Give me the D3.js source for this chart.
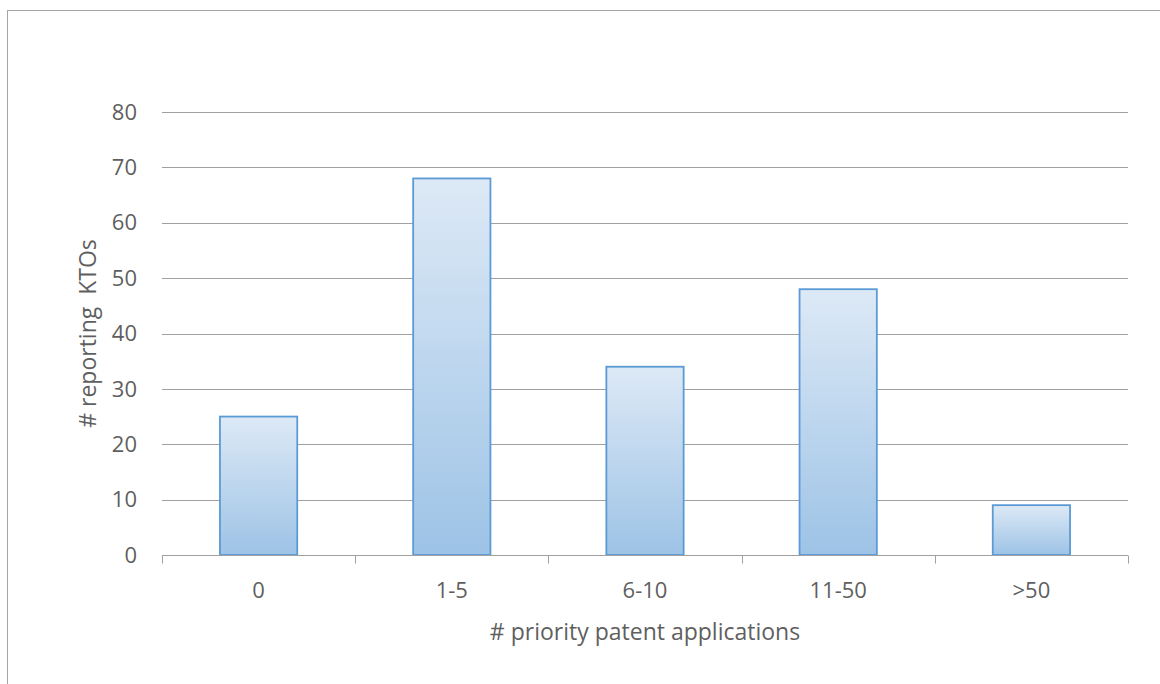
<!DOCTYPE html>
<html>
<head>
<meta charset="utf-8">
<script src="https://cdn.jsdelivr.net/npm/d3@7"></script>
<style>
  html, body { margin: 0; padding: 0; background: #fff; }
  svg { display: block; }
  text { font-family: "Open Sans", "Liberation Sans", sans-serif; fill: #5f5f5f; }
</style>
</head>
<body>
<svg id="chart" width="1160" height="684"></svg>
<script>
// Number of knowledge-transfer offices by count of priority patent applications
const categories = ["0", "1-5", "6-10", "11-50", ">50"];
const values = [25, 68, 34, 48, 9];
const yTicks = [0, 10, 20, 30, 40, 50, 60, 70, 80];
const xTitle = "# priority patent applications";
const yTitle = "# reporting\u00a0\u00a0KTOs";

const svg = d3.select("#chart");
const W = 1160, H = 684;
const m = { left: 162, right: 32, top: 112, bottom: 129 };
const fontSize = 22;

// outer chart frame
svg.append("rect")
  .attr("x", 7.5).attr("y", 10.5)
  .attr("width", W).attr("height", H)
  .attr("fill", "none").attr("stroke", "#a6a6a6").attr("stroke-width", 1);

const x = d3.scaleBand().domain(categories)
  .range([m.left, W - m.right]).paddingInner(0.6).paddingOuter(0.3);
const y = d3.scaleLinear().domain([0, 80]).range([H - m.bottom, m.top]);

const defs = svg.append("defs");
const grad = defs.append("linearGradient").attr("id", "barFill")
  .attr("x1", 0).attr("y1", 0).attr("x2", 0).attr("y2", 1);
grad.append("stop").attr("offset", "0%").attr("stop-color", "#dde9f6");
grad.append("stop").attr("offset", "100%").attr("stop-color", "#9dc3e6");

// horizontal gridlines
svg.append("g").selectAll("line").data(yTicks.filter(d => d > 0)).join("line")
  .attr("x1", m.left).attr("x2", W - m.right)
  .attr("y1", d => Math.round(y(d)) + 0.5).attr("y2", d => Math.round(y(d)) + 0.5)
  .attr("stroke", "#a0a0a0").attr("stroke-width", 1);

// y tick labels
svg.append("g").selectAll("text").data(yTicks).join("text")
  .attr("x", m.left - 25).attr("y", d => y(d))
  .attr("dy", "0.35em").attr("text-anchor", "end")
  .attr("font-size", fontSize).text(d => d);

// bars
svg.append("g").selectAll("rect").data(values).join("rect")
  .attr("x", (d, i) => x(categories[i]))
  .attr("y", d => y(d))
  .attr("width", x.bandwidth())
  .attr("height", d => y(0) - y(d))
  .attr("fill", "url(#barFill)")
  .attr("stroke", "#5b9bd5").attr("stroke-width", 1.8);

// x axis baseline with ticks between categories
const xAxis = d3.axisBottom(x).tickSize(0).tickPadding(42);
const gx = svg.append("g").attr("transform", `translate(0,${Math.round(y(0)) + 0.5})`).call(xAxis);
gx.select(".domain").remove();
gx.selectAll("text").attr("font-size", fontSize).attr("fill", "#5f5f5f")
  .attr("dy", "0")
  .style("font-family", '"Open Sans", "Liberation Sans", sans-serif');
gx.append("line").attr("x1", m.left).attr("x2", W - m.right)
  .attr("stroke", "#a0a0a0").attr("stroke-width", 1);
const edges = d3.range(categories.length + 1).map(i => m.left + i * ((W - m.right - m.left) / categories.length));
gx.selectAll(".sep").data(edges).join("line").attr("class", "sep")
  .attr("x1", d => Math.round(d) + 0.5).attr("x2", d => Math.round(d) + 0.5)
  .attr("y1", 0).attr("y2", 8)
  .attr("stroke", "#a0a0a0").attr("stroke-width", 1);

// axis titles
svg.append("text").attr("x", (m.left + W - m.right) / 2).attr("y", 632)
  .attr("dy", "0.35em")
  .attr("text-anchor", "middle").attr("font-size", 23).text(xTitle);
svg.append("text")
  .attr("transform", `translate(88,${(y(0) + y(80)) / 2}) rotate(-90)`)
  .attr("dy", "0.35em")
  .attr("text-anchor", "middle").attr("font-size", 23).text(yTitle);
</script>
</body>
</html>
